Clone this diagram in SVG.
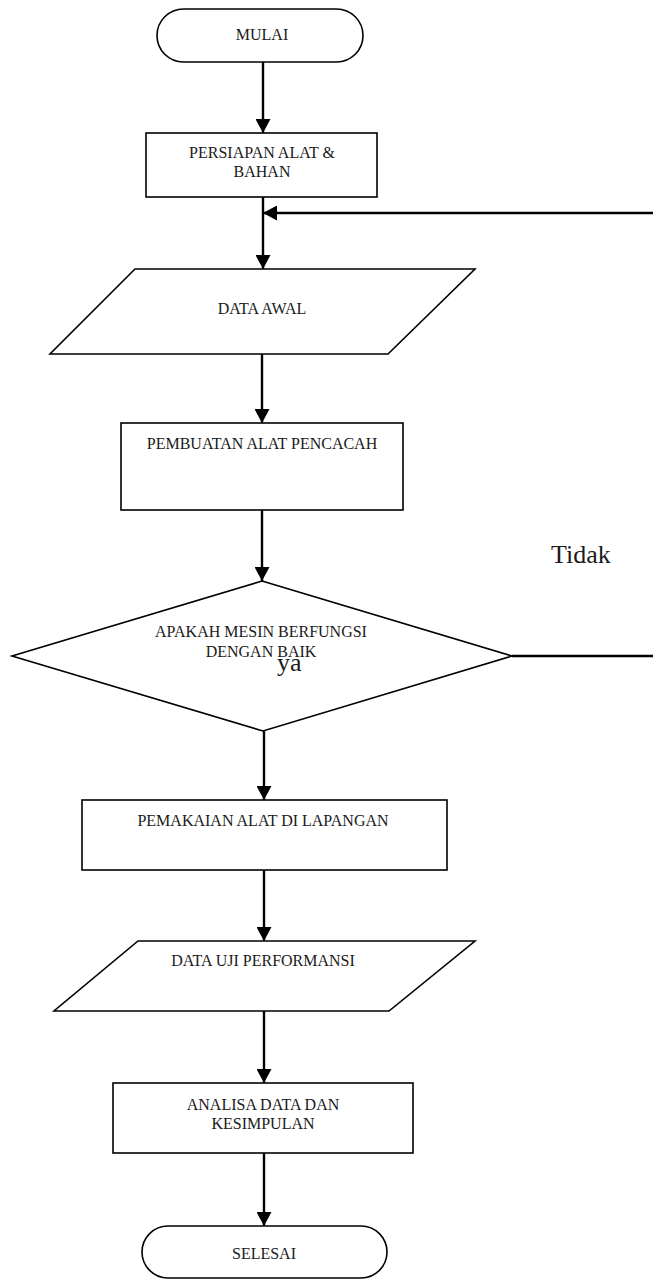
<svg xmlns="http://www.w3.org/2000/svg" width="653" height="1279" viewBox="0 0 653 1279">
<style>
.shape{fill:#fff;stroke:#000;stroke-width:1.6}
.lbl{font-family:"Liberation Serif","Times New Roman",serif;font-size:16px;fill:#1a1a1a;text-anchor:middle}
.big{font-family:"Liberation Serif","Times New Roman",serif;font-size:26px;fill:#1a1a1a}
.conn{fill:none;stroke:#000;stroke-width:2.4}
</style>
<defs>
<marker id="arr" markerUnits="userSpaceOnUse" markerWidth="14" markerHeight="15" refX="14" refY="7.5" orient="auto">
<path d="M0,0 L14,7.5 L0,15 z" fill="#000"/>
</marker>
</defs>
<rect width="653" height="1279" fill="#fff"/>
<g id="connectors">
<path class="conn" d="M263,62 V133" marker-end="url(#arr)"/>
<path class="conn" d="M263,197 V269" marker-end="url(#arr)"/>
<path class="conn" d="M512,656 H656 V213 H263" marker-end="url(#arr)"/>
<path class="conn" d="M262,354 V423" marker-end="url(#arr)"/>
<path class="conn" d="M262,510 V581" marker-end="url(#arr)"/>
<path class="conn" d="M264,731 V800" marker-end="url(#arr)"/>
<path class="conn" d="M264,870 V941" marker-end="url(#arr)"/>
<path class="conn" d="M264,1011 V1083" marker-end="url(#arr)"/>
<path class="conn" d="M264,1153 V1226" marker-end="url(#arr)"/>
</g>
<g id="mulai">
<rect class="shape" x="157" y="9" width="206" height="53" rx="26.5" ry="26.5"/>
<text class="lbl" x="262" y="40">MULAI</text>
</g>
<g id="persiapan">
<rect class="shape" x="146" y="133" width="231" height="64"/>
<text class="lbl" x="262" y="158">PERSIAPAN ALAT &amp;</text>
<text class="lbl" x="262" y="177">BAHAN</text>
</g>
<g id="data-awal">
<polygon class="shape" points="135,269 475,269 388,354 50,354"/>
<text class="lbl" x="262" y="314">DATA AWAL</text>
</g>
<g id="pembuatan">
<rect class="shape" x="121" y="423" width="282" height="87"/>
<text class="lbl" x="262" y="449">PEMBUATAN ALAT PENCACAH</text>
</g>
<g id="keputusan">
<polygon class="shape" points="262,581 512,656 263,731 12,656"/>
<text class="lbl" x="261" y="637">APAKAH MESIN BERFUNGSI</text>
<text class="lbl" x="261" y="657">DENGAN BAIK</text>
</g>
<g id="label-ya"><text class="big" x="277" y="671">ya</text></g>
<g id="label-tidak"><text class="big" x="551" y="563">Tidak</text></g>
<g id="pemakaian">
<rect class="shape" x="82" y="800" width="365" height="70"/>
<text class="lbl" x="263" y="826">PEMAKAIAN ALAT DI LAPANGAN</text>
</g>
<g id="data-uji">
<polygon class="shape" points="138,941 475,941 389,1011 54,1011"/>
<text class="lbl" x="263" y="966">DATA UJI PERFORMANSI</text>
</g>
<g id="analisa">
<rect class="shape" x="113" y="1083" width="300" height="70"/>
<text class="lbl" x="263" y="1110">ANALISA DATA DAN</text>
<text class="lbl" x="263" y="1129">KESIMPULAN</text>
</g>
<g id="selesai">
<rect class="shape" x="142" y="1226" width="245" height="52" rx="26" ry="26"/>
<text class="lbl" x="264" y="1259">SELESAI</text>
</g>
</svg>
